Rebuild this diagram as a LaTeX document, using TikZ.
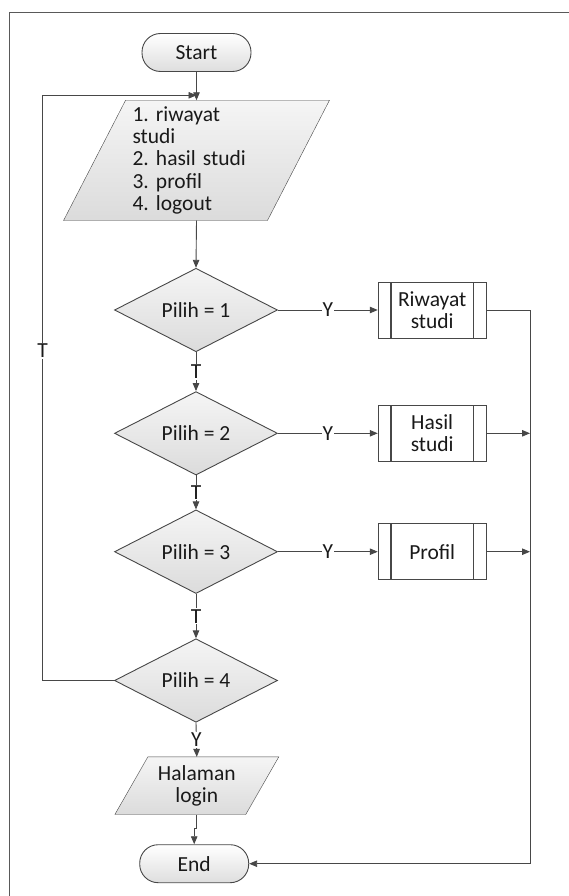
\documentclass[tikz,border=0pt]{standalone}
\usepackage{fontspec}
\setmainfont{Carlito}
\frenchspacing
\usetikzlibrary{shapes.geometric,arrows.meta,backgrounds}

\begin{document}
\begin{tikzpicture}[x=1pt,y=-1pt,
  line width=0.9pt,
  font=\fontsize{21.5}{22.3}\selectfont,
  text=black!90,
  ln/.style={draw=black!72},
  arr/.style={ln, -{Triangle[length=8pt,width=6.5pt]}},
  term/.style={draw=black!72, rounded corners=18.5pt, minimum width=109pt,
    minimum height=38pt, top color=white, bottom color=black!13, inner sep=0pt},
  decide/.style={diamond, draw=black!72, minimum width=163pt, minimum height=83pt,
    top color=black!4, bottom color=black!14, inner sep=0pt},
  proc/.style={draw=black!72, fill=white, minimum width=108pt, minimum height=56pt,
    align=center, inner sep=0pt,
    path picture={
      \draw[black!72, line width=1.4pt]
        ([xshift=12.7pt]path picture bounding box.north west) --
        ([xshift=12.7pt]path picture bounding box.south west)
        ([xshift=-12.7pt]path picture bounding box.north east) --
        ([xshift=-12.7pt]path picture bounding box.south east);}},
  iofill/.style={draw=black!72, top color=black!4, bottom color=black!14},
  lab/.style={fill=white, inner sep=1pt}
]
\useasboundingbox (0,0) rectangle (569,896);

% page frame
\draw[black!65] (9.5,896) -- (9.5,12.5) -- (569,12.5);

% nodes
\node[term] (start) at (196.5,52.5) {Start};
\node[minimum width=203pt, minimum height=119.3pt, text width=128pt,
      align=left, inner sep=0pt] (menu) at (196.5,160.4)
      {1. riwayat\\studi\\2. hasil studi\\3. profil\\4. logout};
\node[decide] (d1) at (196,310) {Pilih = 1};
\node[decide] (d2) at (196,433.3) {Pilih = 2};
\node[decide] (d3) at (196,551.7) {Pilih = 3};
\node[decide] (d4) at (196,680.5) {Pilih = 4};
\node[proc] (r1) at (432.2,310) {Riwayat\\studi};
\node[proc] (r2) at (432.2,433.3) {Hasil\\studi};
\node[proc] (r3) at (432.2,551.7) {Profil};
\node[minimum width=130pt, minimum height=56.7pt, align=center,
      inner sep=0pt] (hal) at (196.8,785.7) {Halaman\\login};
\node[term] (end) at (194.2,863.7) {End};
\coordinate (rail) at (530,0);
\coordinate (loopx) at (42.7,0);

% slanted input/output shapes behind their texts
\begin{scope}[on background layer]
  \shadedraw[iofill]
    ([xshift=31pt]menu.north west) -- ([xshift=31pt]menu.north east) --
    ([xshift=-31pt]menu.south east) -- ([xshift=-31pt]menu.south west) -- cycle;
  \shadedraw[iofill]
    ([xshift=16.5pt]hal.north west) -- ([xshift=16.5pt]hal.north east) --
    ([xshift=-16.5pt]hal.south east) -- ([xshift=-16.5pt]hal.south west) -- cycle;
\end{scope}

% main column
\draw[arr] (start.south) -- (menu.north);
\draw[arr] (menu.south) -- (d1.north);
\draw[arr] (d1.south) -- node[lab]{T} (d2.north);
\draw[arr] (d2.south) -- node[lab]{T} (d3.north);
\draw[arr] (d3.south) -- node[lab]{T} (d4.north);
\draw[arr] (d4.south) -- node[lab]{Y} (hal.north);
\draw[arr] (hal.south) -- ++(0,14) -| (end.north);

% loop back to the menu
\draw[arr] (d4.west) -- (d4.west -| loopx) |- ([yshift=5pt]menu.north);
\node[lab] (tloop) at (42.7,351) {T};

% branches
\draw[arr] (d1.east) -- node[lab]{Y} (r1.west);
\draw[arr] (d2.east) -- node[lab]{Y} (r2.west);
\draw[arr] (d3.east) -- node[lab]{Y} (r3.west);

% merge rail to End
\draw[arr] (r1.east) -- (r1.east -| rail) |- (end.east);
\draw[arr] (r2.east) -- (r2.east -| rail);
\draw[arr] (r3.east) -- (r3.east -| rail);
\end{tikzpicture}
\end{document}
